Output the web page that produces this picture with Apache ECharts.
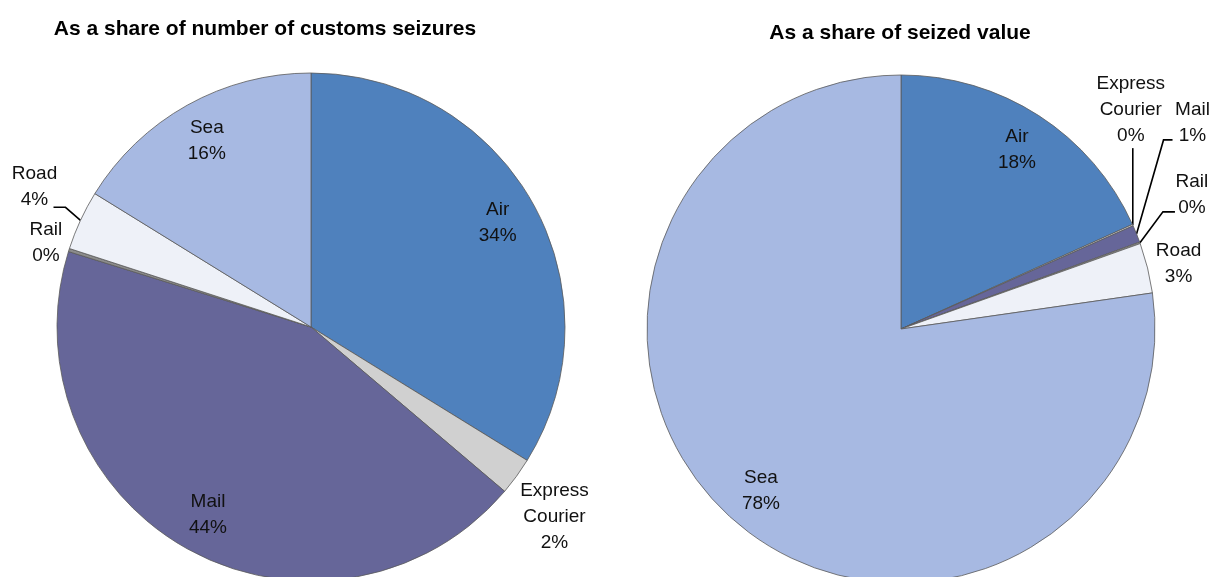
<!DOCTYPE html>
<html>
<head>
<meta charset="utf-8">
<script src="https://cdn.jsdelivr.net/npm/echarts@6/dist/echarts.min.js"></script>
<style>
  html, body { margin: 0; padding: 0; background: #fff; }
  #chart { width: 1212px; height: 577px; }
</style>
</head>
<body>
<div id="chart"></div>
<script>
// Transport modes and their shares (%)
const modes = ['Air', 'Express\nCourier', 'Mail', 'Rail', 'Road', 'Sea'];
const seizuresShare = [33.8, 2.4, 43.6, 0.2, 3.8, 16.2];
const valueShare = [18.3, 0.1, 1.1, 0.1, 3.2, 77.5];
const titles = ['As a share of number of customs seizures', 'As a share of seized value'];

const colors = ['#4F81BD', '#D0D0D0', '#666699', '#8C8C8C', '#EEF1F8', '#A7B9E2'];
const FONT = '"Liberation Sans", Arial, sans-serif';

// Per-pie layout: which slices carry an inside label, and for small slices
// the leader-line bends / text anchor as offsets from the slice edge point.
const pies = [
  {
    title: titles[0], titlePos: [265, 29],
    center: [311, 327], radius: 254, values: seizuresShare,
    inside: [0, 2, 5],
    outside: {
      1: { text: [38, 40] },
      3: { text: [-23, -7] },
      4: { line: [[-15, -13], [-27, -13]], text: [-46, -34] }
    }
  },
  {
    title: titles[1], titlePos: [900, 33],
    center: [901, 329], radius: 254, values: valueShare,
    inside: [0, 5],
    outside: {
      1: { line: [[0, -40], [0, -77]], text: [-2, -115] },
      2: { line: [[27, -94], [36, -94]], text: [56, -111] },
      3: { line: [[23, -31], [35, -31]], text: [52, -48] },
      4: { text: [31, -4] }
    }
  }
];

const labelText = p => p.name + '\n' + Math.round(p.value) + '%';
const textStyle = { color: '#111', fontFamily: FONT, fontSize: 19, lineHeight: 26, align: 'center' };

const series = [];
const graphic = [];

pies.forEach(pie => {
  // visible slices + outside labels for the thin ones
  series.push({
    type: 'pie',
    center: pie.center,
    radius: pie.radius,
    startAngle: 90,
    clockwise: true,
    avoidLabelOverlap: false,
    silent: true,
    animation: false,
    itemStyle: { borderColor: '#5a5a5a', borderWidth: 0.8 },
    label: Object.assign({ show: true, position: 'outside', formatter: labelText }, textStyle),
    labelLine: { show: true, length: 5, length2: 5, lineStyle: { color: '#000', width: 1.6 } },
    labelLayout: params => {
      const cfg = pie.outside[params.dataIndex];
      if (!cfg || !params.labelLinePoints) return {};
      const p0 = params.labelLinePoints[0];
      const pts = cfg.line
        ? [p0, [p0[0] + cfg.line[0][0], p0[1] + cfg.line[0][1]], [p0[0] + cfg.line[1][0], p0[1] + cfg.line[1][1]]]
        : [p0, p0, p0];
      return {
        x: p0[0] + cfg.text[0],
        y: p0[1] + cfg.text[1],
        align: 'center',
        verticalAlign: 'middle',
        labelLinePoints: pts
      };
    },
    data: pie.values.map((v, i) => {
      const cfg = pie.outside[i];
      return {
        name: modes[i],
        value: v,
        itemStyle: { color: colors[i] },
        label: { show: !!cfg },
        labelLine: { show: !!cfg, lineStyle: { width: cfg && cfg.line ? 1.6 : 0 } }
      };
    })
  });

  // transparent ring carrying the inside labels near the rim
  series.push({
    type: 'pie',
    center: pie.center,
    radius: [pie.radius * 0.66, pie.radius],
    startAngle: 90,
    clockwise: true,
    silent: true,
    animation: false,
    itemStyle: { color: 'rgba(0,0,0,0)', borderWidth: 0 },
    label: Object.assign({ show: true, position: 'inside', formatter: labelText }, textStyle),
    labelLine: { show: false },
    data: pie.values.map((v, i) => ({
      name: modes[i],
      value: v,
      label: { show: pie.inside.indexOf(i) >= 0 }
    }))
  });

  graphic.push({
    type: 'text',
    x: pie.titlePos[0],
    y: pie.titlePos[1],
    style: {
      text: pie.title,
      font: 'bold 21px ' + FONT,
      fill: '#000',
      textAlign: 'center',
      textVerticalAlign: 'middle',
      align: 'center',
      verticalAlign: 'middle'
    }
  });
});

const chart = echarts.init(document.getElementById('chart'), null, { renderer: 'canvas' });
chart.setOption({
  backgroundColor: '#fff',
  animation: false,
  graphic: graphic,
  series: series
});
</script>
</body>
</html>
